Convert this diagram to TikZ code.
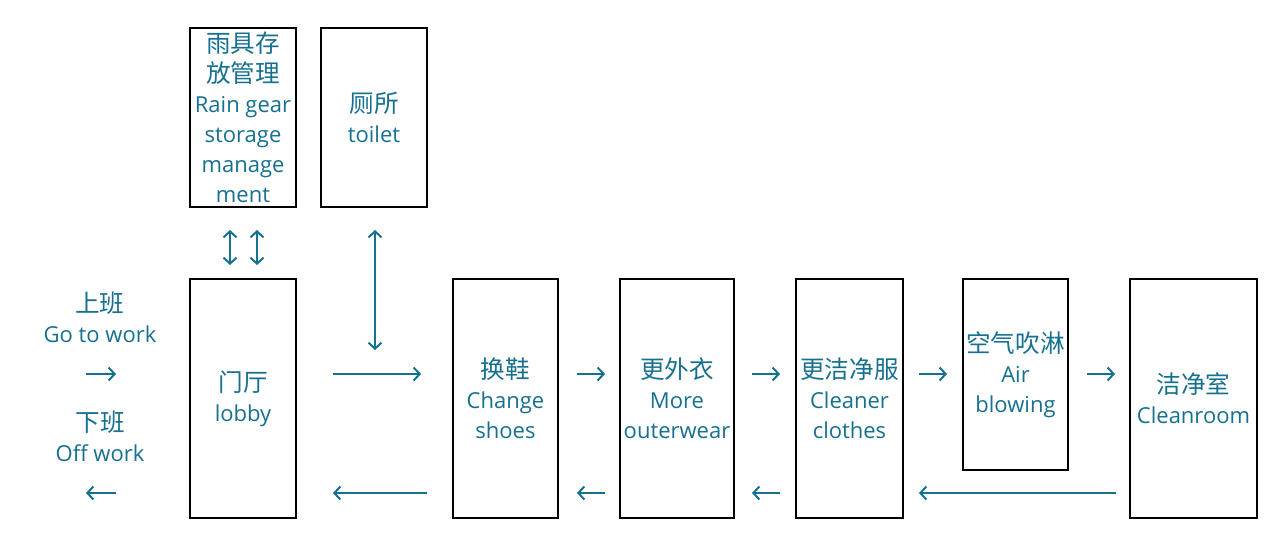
\documentclass[tikz,border=0pt]{standalone}
\usepackage{fontspec}
\setmainfont{Open Sans}
\newfontfamily\cjk{Noto Sans CJK SC}
\usetikzlibrary{arrows.meta, calc}
\definecolor{flowteal}{RGB}{22,112,143}
\newcommand{\zh}[1]{{\cjk\fontsize{12.3}{15}\selectfont #1}}

\begin{document}
\begin{tikzpicture}[x=0.5pt, y=-0.5pt,
    room/.style={draw=black, line width=1pt, inner sep=0pt, align=center,
                 text=flowteal, font=\fontsize{11}{15}\selectfont},
    tag/.style={inner sep=0pt, align=center, text=flowteal,
                font=\fontsize{11}{15}\selectfont},
    flow/.style={draw=flowteal, line width=1pt, -{Straight Barb[length=3pt,width=6.5pt]}},
    both/.style={draw=flowteal, line width=1pt, {Straight Barb[length=3pt,width=6.5pt]}-{Straight Barb[length=3pt,width=6.5pt]}}]
    \useasboundingbox (0,0) rectangle (1285,553);

    % Rooms:
    \node[room, minimum width=53pt, minimum height=89.5pt] (rain) at (243,117.5)
        {\zh{雨具存}\\\zh{放管理}\\Rain gear\\storage\\manage\\ment};
    \node[room, minimum width=53pt, minimum height=89.5pt] (toilet) at (374,117.5)
        {\zh{厕所}\\toilet};
    \node[room, minimum width=53pt, minimum height=119.5pt] (lobby) at (243,398.5)
        {\zh{门厅}\\lobby};
    \node[room, minimum width=52.5pt, minimum height=119.5pt] (shoes) at (505.5,398.5)
        {\zh{换鞋}\\Change\\shoes};
    \node[room, minimum width=57pt, minimum height=119.5pt] (outer) at (677,398.5)
        {\zh{更外衣}\\More\\outerwear};
    \node[room, minimum width=53.5pt, minimum height=119.5pt] (cleaner) at (849.5,398.5)
        {\zh{更洁净服}\\Cleaner\\clothes};
    \node[room, minimum width=52.5pt, minimum height=95.5pt] (air) at (1015.5,374.5)
        {\zh{空气吹淋}\\Air\\blowing};
    \node[room, minimum width=63.5pt, minimum height=119.5pt] (clean) at (1193.5,398.5)
        {\zh{洁净室}\\Cleanroom};

    % Go to work / off work:
    \node[tag] (gowork) at (100,317) {\zh{上班}\\Go to work};
    \node[tag] (offwork) at (100,436) {\zh{下班}\\Off work};
    \coordinate (fwd) at (0,374);
    \coordinate (bwd) at (0,493);
    \coordinate (in1) at (86,374);
    \coordinate (in2) at (116,374);
    \coordinate (out1) at (116,493);
    \coordinate (out2) at (86,493);
    \draw[flow] (in1) -- (in2);
    \draw[flow] (out1) -- (out2);

    % Vertical links:
    \draw[both, shorten <=11pt, shorten >=6.5pt] ([xshift=-6.5pt]rain.south) -- ([xshift=-6.5pt]lobby.north);
    \draw[both, shorten <=11pt, shorten >=6.5pt] ([xshift=7pt]rain.south) -- ([xshift=7pt]lobby.north);
    \draw[both, shorten <=11pt, shorten >=12pt] ([xshift=0.5pt]toilet.south) -- ([xshift=0.5pt]toilet.south |- fwd);

    % Way in:
    \draw[flow, shorten <=18pt, shorten >=15.5pt] (lobby.east |- fwd) -- (shoes.west |- fwd);
    \draw[flow, shorten <=9pt, shorten >=7pt] (shoes.east |- fwd) -- (outer.west |- fwd);
    \draw[flow, shorten <=8.5pt, shorten >=7.5pt] (outer.east |- fwd) -- (cleaner.west |- fwd);
    \draw[flow, shorten <=7.5pt, shorten >=7.5pt] (cleaner.east |- fwd) -- (air.west |- fwd);
    \draw[flow, shorten <=9pt, shorten >=7pt] (air.east |- fwd) -- (clean.west |- fwd);

    % Way out:
    \draw[flow, shorten <=6.5pt, shorten >=7.5pt] (clean.west |- bwd) -- (cleaner.east |- bwd);
    \draw[flow, shorten <=7.5pt, shorten >=8.5pt] (cleaner.west |- bwd) -- (outer.east |- bwd);
    \draw[flow, shorten <=7pt, shorten >=9pt] (outer.west |- bwd) -- (shoes.east |- bwd);
    \draw[flow, shorten <=12.5pt, shorten >=18pt] (shoes.west |- bwd) -- (lobby.east |- bwd);
\end{tikzpicture}
\end{document}
